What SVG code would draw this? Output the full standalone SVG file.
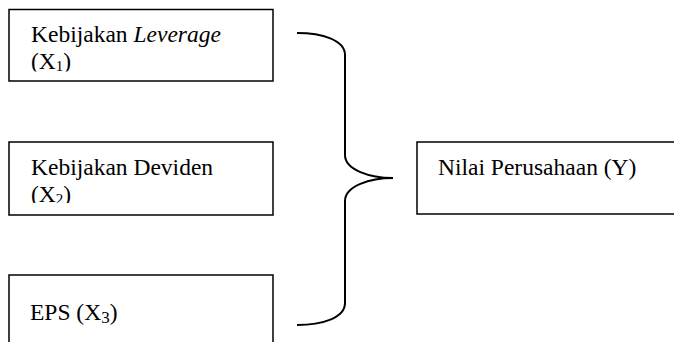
<svg xmlns="http://www.w3.org/2000/svg" width="674" height="342" viewBox="0 0 674 342">
<style>
.box{fill:#fff;stroke:#000;stroke-width:1.5}
.t{font-family:"Liberation Serif","Times New Roman",serif;font-size:23.5px;fill:#000}
.sub{font-size:15px}
.conn{fill:none;stroke:#000;stroke-width:2}
</style>
<defs>
<clipPath id="c1"><rect x="9" y="9" width="265" height="62.5"/></clipPath>
<clipPath id="c2"><rect x="9" y="142" width="265" height="61"/></clipPath>
</defs>
<g id="node-x1">
<rect class="box" x="9" y="9.5" width="264" height="71.5"/>
<text class="t" clip-path="url(#c1)"><tspan x="31" y="41.5">Kebijakan <tspan font-style="italic">Leverage</tspan></tspan><tspan x="31" y="68.5">(X<tspan class="sub" dy="2">1</tspan><tspan dy="-2">)</tspan></tspan></text>
</g>
<g id="node-x2">
<rect class="box" x="9" y="142" width="264" height="73"/>
<text class="t" clip-path="url(#c2)"><tspan x="31" y="175">Kebijakan Deviden</tspan><tspan x="31" y="202">(X<tspan class="sub" dy="2">2</tspan><tspan dy="-2">)</tspan></tspan></text>
</g>
<g id="node-x3">
<rect class="box" x="9" y="275" width="264" height="80"/>
<text class="t" x="30" y="320" font-size="25.5">EPS (X<tspan font-size="17" dy="3">3</tspan><tspan dy="-3">)</tspan></text>
</g>
<g id="node-y">
<rect class="box" x="417" y="142" width="270" height="72"/>
<text class="t" x="438" y="175">Nilai Perusahaan (Y)</text>
</g>
<g id="connectors">
<path class="conn" d="M297,33 C322,33 345,40 345,55 L345,155 C345,170 370,178 393,178 C370,178 345,186 345,201 L345,303 C345,318 322,325 297,325"/>
</g>
</svg>
